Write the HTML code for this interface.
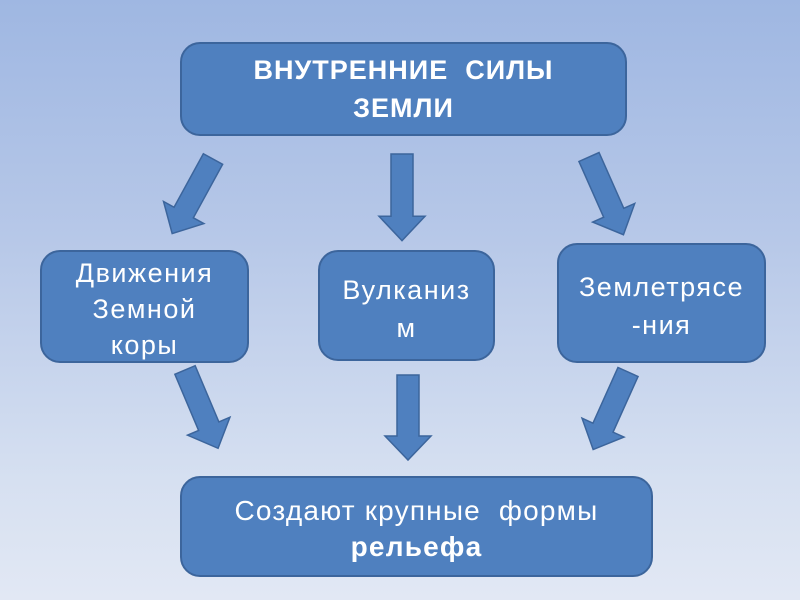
<!DOCTYPE html>
<html><head><meta charset="utf-8"><style>
html,body{margin:0;padding:0}
body{width:800px;height:600px;overflow:hidden;position:relative;background:linear-gradient(#9fb7e2 0%,#b7c8e8 40%,#d6e0f1 80%,#e2e8f4 100%);font-family:"Liberation Sans","DejaVu Sans",sans-serif}
.b{position:absolute;box-sizing:border-box;background:#4f80bf;border:2px solid #3c659c;border-radius:20px;color:#fff;display:flex;align-items:center;justify-content:center;text-align:center}
svg{position:absolute;left:0;top:0}
</style></head><body>
<div class="b" style="left:180px;top:42px;width:447px;height:94px;font-weight:bold;font-size:27px;line-height:38px;letter-spacing:1px"><span>ВНУТРЕННИЕ &nbsp;СИЛЫ<br>ЗЕМЛИ</span></div>
<div class="b" style="left:40px;top:250px;width:209px;height:113px;font-size:27px;line-height:36px;letter-spacing:1.5px;align-items:flex-start;padding-top:3px"><span>Движения<br>Земной<br>коры</span></div>
<div class="b" style="left:318px;top:250px;width:177px;height:111px;font-size:27px;line-height:38px;letter-spacing:1.5px;padding-top:6px"><span>Вулканиз<br>м</span></div>
<div class="b" style="left:557px;top:243px;width:209px;height:120px;font-size:27px;line-height:38px;letter-spacing:1.5px;padding-top:6px"><span>Землетрясе<br>-ния</span></div>
<div class="b" style="left:180px;top:476px;width:473px;height:101px;font-size:28px;line-height:36px;letter-spacing:1.2px;padding-top:4px"><span>Создают крупные &nbsp;формы<br><b>рельефа</b></span></div>
<svg width="800" height="600">
<defs><polygon id="a" points="0,-11 61,-11 61,-23 85,0 61,23 61,11 0,11" fill="#4f80bf" stroke="#3c659c" stroke-width="1.5"/></defs>
<use href="#a" transform="translate(213,159) rotate(118.7)"/>
<use href="#a" transform="translate(402,154) rotate(90) scale(1.02,1)"/>
<use href="#a" transform="translate(589,157) rotate(66.1)"/>
<use href="#a" transform="translate(185,370) rotate(67.1)"/>
<use href="#a" transform="translate(408,375) rotate(90)"/>
<use href="#a" transform="translate(628,372) rotate(114.2)"/>
</svg>
</body></html>
